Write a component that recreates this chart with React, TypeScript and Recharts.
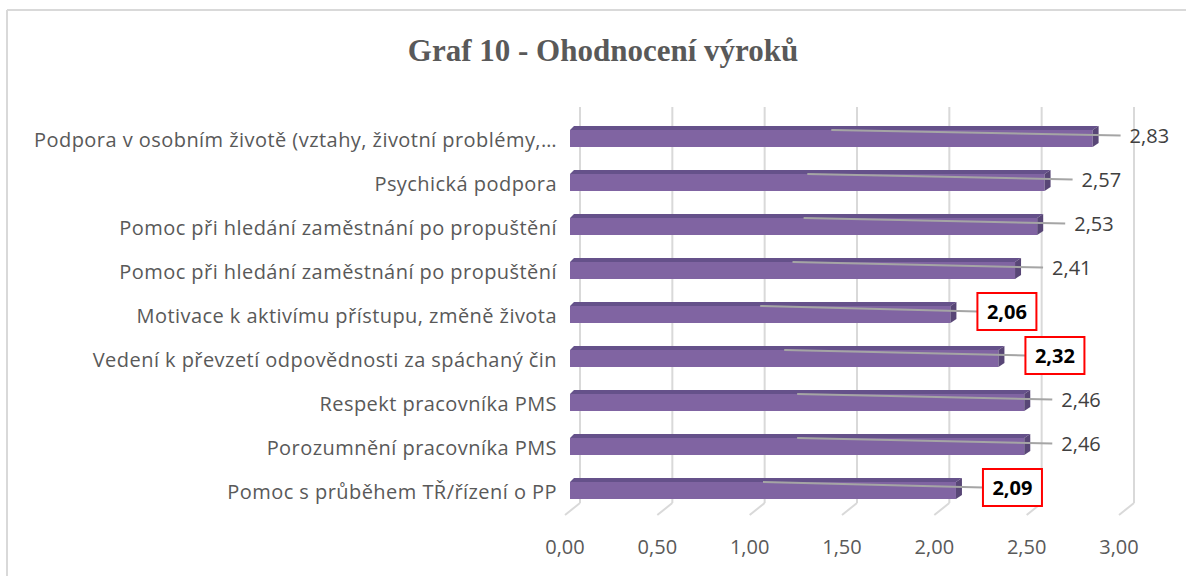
import React from 'react';
import { BarChart, Bar, XAxis, YAxis, CartesianGrid, LabelList } from 'recharts';

const categories = [
  'Podpora v osobním životě (vztahy, životní problémy,…',
  'Psychická podpora',
  'Pomoc při hledání zaměstnání po propuštění',
  'Pomoc při hledání zaměstnání po propuštění',
  'Motivace k aktivímu přístupu, změně života',
  'Vedení k převzetí odpovědnosti za spáchaný čin',
  'Respekt pracovníka PMS',
  'Porozumnění pracovníka PMS',
  'Pomoc s průběhem TŘ/řízení o PP',
];
const values = [2.83, 2.57, 2.53, 2.41, 2.06, 2.32, 2.46, 2.46, 2.09];
const highlighted = [false, false, false, false, true, true, false, false, true];
const xTicks = [0, 0.5, 1, 1.5, 2, 2.5, 3];

const title = 'Graf 10 - Ohodnocení výroků';

const data = categories.map((name, i) => ({
  id: `r${i}`,
  name,
  value: values[i],
  hl: highlighted[i],
}));

const fmt = (v: number) => v.toFixed(2).replace('.', ',');
const FONT = '"Open Sans", sans-serif';

// fake 3D bar: front face + top + right side
const Bar3D = (props: any) => {
  const { x, y, width, height } = props;
  if (width == null || width <= 0) return null;
  const dx = 6;
  const dy = 4;
  return (
    <g>
      <polygon
        points={`${x},${y} ${x + 4},${y - dy} ${x + width + dx},${y - dy} ${x + width},${y}`}
        fill="#65518A"
      />
      <rect x={x} y={y} width={width} height={height} fill="#8064A2" />
      <polygon
        points={`${x + width},${y} ${x + width + dx},${y - dy} ${x + width + dx},${y + height - dy} ${x + width},${y + height}`}
        fill="#584676"
      />
    </g>
  );
};

const CatTick = (props: any) => {
  const { x, y, index } = props;
  return (
    <text
      x={x}
      y={y + 9}
      textAnchor="end"
      fill="#595959"
      fontSize={20}
      letterSpacing={0.45}
      fontFamily={FONT}
    >
      {categories[index]}
    </text>
  );
};

const ValTick = (props: any) => {
  const { x, y, payload } = props;
  return (
    <text x={x - 5} y={y + 42} textAnchor="middle" fill="#595959" fontSize={20} fontFamily={FONT}>
      {fmt(payload.value)}
    </text>
  );
};

const gridLine = (p: any) => {
  const { x1, y1, y2, index } = p;
  return (
    <g key={`g${index}`}>
      <line x1={x1 + 10} y1={y1 - 9} x2={x1 + 10} y2={y2 - 9} stroke="#D9D9D9" strokeWidth={2} />
      <line x1={x1 + 10} y1={y2 - 9} x2={x1 - 5} y2={y2 + 3} stroke="#D9D9D9" strokeWidth={2} />
    </g>
  );
};

const ValueLabel = (props: any) => {
  const { x, y, width, height, value, index } = props;
  const endX = x + width;
  const midX = x + width / 2;
  const cy = y + height / 2 - 3;
  if (highlighted[index]) {
    const bx = endX + 27;
    const bw = 59;
    const bh = 37;
    return (
      <g>
        <line x1={midX} y1={y} x2={bx} y2={cy} stroke="#A5A5A5" strokeWidth={2} />
        <rect x={bx} y={cy - bh / 2} width={bw} height={bh} fill="#fff" stroke="#FF0000" strokeWidth={2} />
        <text x={bx + bw / 2} y={cy + 7} textAnchor="middle" fill="#000" fontSize={20} fontWeight="bold" fontFamily={FONT}>
          {fmt(value)}
        </text>
      </g>
    );
  }
  return (
    <g>
      <line x1={midX} y1={y} x2={endX + 28} y2={cy} stroke="#A5A5A5" strokeWidth={2} />
      <text x={endX + 37} y={cy + 7} textAnchor="start" fill="#404040" fontSize={20} fontFamily={FONT}>
        {fmt(value)}
      </text>
    </g>
  );
};

export default function App() {
  return (
    <div style={{ position: 'relative', width: 1186, height: 576, background: '#fff', overflow: 'hidden' }}>
      <style>{'body{margin:0}'}</style>
      <svg width={1186} height={576} style={{ position: 'absolute', left: 0, top: 0 }}>
        <line x1={7} y1={10} x2={1186} y2={10} stroke="#D9D9D9" strokeWidth={2} />
        <line x1={7} y1={10} x2={7} y2={576} stroke="#D9D9D9" strokeWidth={2} />
        <text
          x={603}
          y={61}
          textAnchor="middle"
          fill="#595959"
          fontSize={31}
          fontWeight="bold"
          fontFamily='"Liberation Serif", "Times New Roman", serif'
        >
          {title}
        </text>
      </svg>
      <div style={{ position: 'absolute', left: 0, top: 0 }}>
        <BarChart
          width={1186}
          height={576}
          data={data}
          layout="vertical"
          margin={{ top: 116, right: 62, bottom: 24, left: 0 }}
        >
          <CartesianGrid horizontal={false} vertical={gridLine} />
          <XAxis
            type="number"
            domain={[0, 3]}
            ticks={xTicks}
            interval={0}
            axisLine={false}
            tickLine={false}
            tickSize={0}
            tickMargin={0}
            height={40}
            tick={<ValTick />}
          />
          <YAxis
            type="category"
            dataKey="id"
            width={570}
            axisLine={false}
            tickLine={false}
            tickSize={0}
            tickMargin={13}
            interval={0}
            tick={<CatTick />}
          />
          <Bar dataKey="value" barSize={17} shape={Bar3D} isAnimationActive={false}>
            <LabelList dataKey="value" content={<ValueLabel />} />
          </Bar>
        </BarChart>
      </div>
    </div>
  );
}
